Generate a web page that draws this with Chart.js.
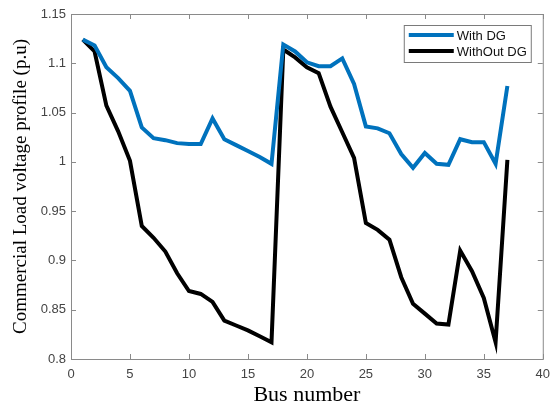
<!DOCTYPE html>
<html>
<head>
<meta charset="utf-8">
<script src="https://cdn.jsdelivr.net/npm/chart.js@4"></script>
<style>
  html, body { margin: 0; padding: 0; background: #fff; }
  #wrap { width: 558px; height: 408px; }
</style>
</head>
<body>
<div id="wrap"><canvas id="c" width="558" height="408"></canvas></div>
<script>
// Bus numbers 1..37
const buses = [1,2,3,4,5,6,7,8,9,10,11,12,13,14,15,16,17,18,19,20,21,22,23,24,25,26,27,28,29,30,31,32,33,34,35,36,37];

// Voltage profile (p.u) with distributed generation
const withDG = [1.124,1.118,1.096,1.085,1.072,1.035,1.024,1.022,1.019,1.018,1.018,1.044,1.023,1.017,1.011,1.005,0.998,
                1.119,1.112,1.101,1.097,1.097,1.105,1.079,1.036,1.034,1.029,1.008,0.994,1.009,0.998,0.997,1.023,1.020,1.020,0.998,1.077];

// Voltage profile (p.u) without distributed generation
const withoutDG = [1.124,1.112,1.057,1.031,1.001,0.935,0.923,0.909,0.887,0.869,0.866,0.858,0.839,0.834,0.829,0.823,0.817,
                   1.114,1.106,1.096,1.090,1.056,1.030,1.004,0.938,0.931,0.921,0.883,0.856,0.846,0.836,0.835,0.910,0.889,0.862,0.817,1.002];

const seriesNames = ['With DG', 'WithOut DG'];
const seriesColors = ['#0072BD', '#000000'];

const xTicks = [0,5,10,15,20,25,30,35,40];
const yTicks = [0.8,0.85,0.9,0.95,1,1.05,1.1,1.15];

const axisColor = '#8a8a8a';
const tickFont = { family: 'Liberation Sans, Arial, sans-serif', size: 13 };

// Box around the plot area with inward tick marks (MATLAB-style axes)
const boxAxes = {
  id: 'boxAxes',
  afterDraw(chart) {
    const { ctx, chartArea: a, scales: { x, y } } = chart;
    ctx.save();
    ctx.strokeStyle = axisColor;
    ctx.lineWidth = 1;
    ctx.strokeRect(a.left + 0.5, a.top + 0.5, a.right - a.left, a.bottom - a.top);
    const len = 5;
    ctx.beginPath();
    xTicks.forEach(v => {
      const px = Math.round(x.getPixelForValue(v)) + 0.5;
      ctx.moveTo(px, a.bottom); ctx.lineTo(px, a.bottom - len);
      ctx.moveTo(px, a.top); ctx.lineTo(px, a.top + len);
    });
    yTicks.forEach(v => {
      const py = Math.round(y.getPixelForValue(v)) + 0.5;
      ctx.moveTo(a.left, py); ctx.lineTo(a.left + len, py);
      ctx.moveTo(a.right, py); ctx.lineTo(a.right - len, py);
    });
    ctx.stroke();
    ctx.restore();
  }
};

// Legend drawn inside the upper-right corner of the plot area
const innerLegend = {
  id: 'innerLegend',
  afterDraw(chart) {
    const { ctx, chartArea: a } = chart;
    const boxW = 127, boxH = 37;
    const bx = a.right - 12 - boxW, by = a.top + 11;
    ctx.save();
    ctx.fillStyle = '#fff';
    ctx.fillRect(bx, by, boxW, boxH);
    ctx.strokeStyle = '#7a7a7a';
    ctx.lineWidth = 1;
    ctx.strokeRect(bx + 0.5, by + 0.5, boxW, boxH);
    ctx.font = '13px Liberation Sans, Arial, sans-serif';
    ctx.textBaseline = 'middle';
    chart.data.datasets.forEach((ds, i) => {
      const cy = by + 10 + i * 16;
      ctx.strokeStyle = ds.borderColor;
      ctx.lineWidth = 4;
      ctx.beginPath();
      ctx.moveTo(bx + 5, cy); ctx.lineTo(bx + 50, cy);
      ctx.stroke();
      ctx.fillStyle = '#111';
      ctx.fillText(ds.label, bx + 53, cy + 1);
    });
    ctx.restore();
  }
};

new Chart(document.getElementById('c'), {
  type: 'line',
  data: {
    datasets: [
      { label: seriesNames[0], data: buses.map((b, i) => ({ x: b, y: withDG[i] })),
        borderColor: seriesColors[0], borderWidth: 4, pointRadius: 0, tension: 0, fill: false },
      { label: seriesNames[1], data: buses.map((b, i) => ({ x: b, y: withoutDG[i] })),
        borderColor: seriesColors[1], borderWidth: 4, pointRadius: 0, tension: 0, fill: false }
    ]
  },
  options: {
    responsive: false,
    animation: false,
    layout: { padding: { top: 14, right: 14, left: 0, bottom: 0 } },
    plugins: { legend: { display: false }, tooltip: { enabled: false } },
    scales: {
      x: {
        type: 'linear', min: 0, max: 40,
        afterBuildTicks: s => { s.ticks = xTicks.map(v => ({ value: v })); },
        afterFit: s => { s.height = 49; },
        grid: { display: false, drawTicks: false },
        border: { display: false },
        ticks: { color: '#444', font: tickFont, padding: 8, maxRotation: 0 },
        title: { display: true, text: 'Bus number', color: '#000',
                 font: { family: 'Liberation Serif, Times New Roman, serif', size: 22 }, padding: { top: 0, bottom: 0 } }
      },
      y: {
        type: 'linear', min: 0.8, max: 1.15,
        afterBuildTicks: s => { s.ticks = yTicks.map(v => ({ value: v })); },
        afterFit: s => { s.width = 71; },
        grid: { display: false, drawTicks: false },
        border: { display: false },
        ticks: { color: '#444', font: tickFont, padding: 5,
                 callback: v => String(+v.toFixed(2)) },
        title: { display: true, text: 'Commercial Load voltage profile (p.u)', color: '#000',
                 font: { family: 'Liberation Serif, Times New Roman, serif', size: 19 }, padding: { top: 10, bottom: 0 } }
      }
    }
  },
  plugins: [boxAxes, innerLegend]
});
</script>
</body>
</html>
